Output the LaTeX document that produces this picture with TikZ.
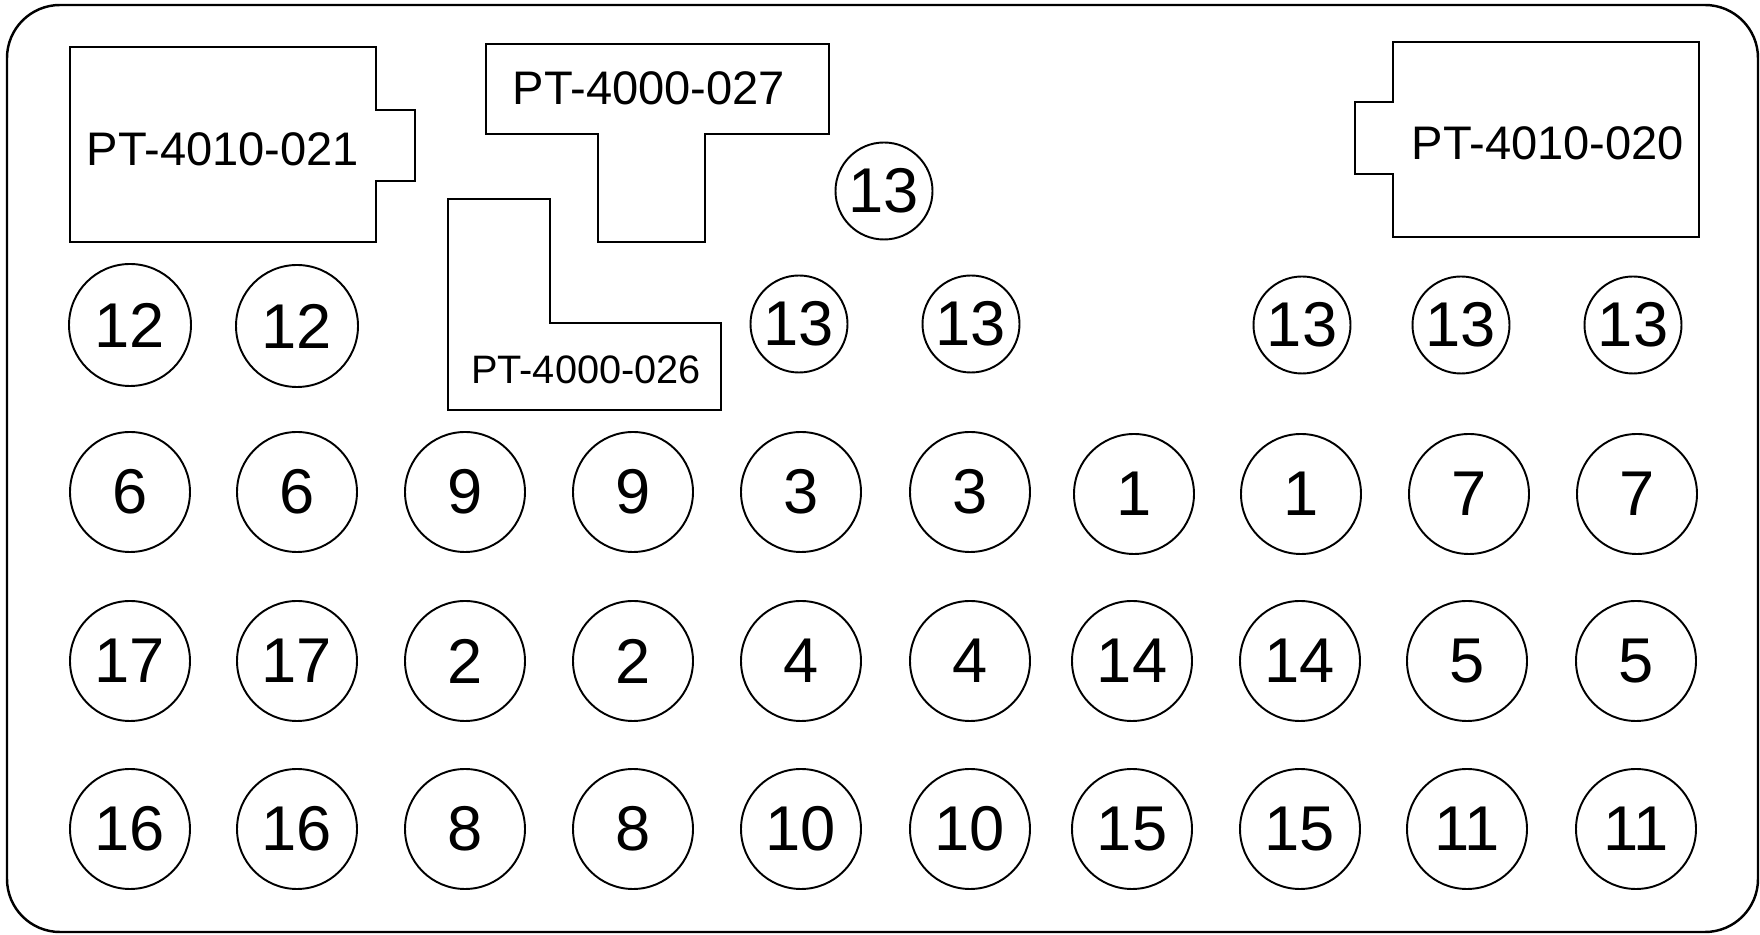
\documentclass[tikz,border=0pt]{standalone}
\usepackage{fontspec}
\setmainfont{Liberation Sans}
\tikzset{
  tray/.style={line width=0.7pt, rounded corners=5.3mm},
  cutout/.style={line width=0.6pt},
  hole/.style={circle, draw, line width=0.55pt, minimum size=1.2cm, inner sep=0pt, font=\fontsize{18}{21}\selectfont},
  bighole/.style={hole, minimum size=1.22cm},
  smallhole/.style={hole, minimum size=0.97cm},
  partname/.style={inner sep=0pt, font=\fontsize{13.4}{16}\selectfont},
  smallname/.style={inner sep=0pt, font=\fontsize{11.3}{13}\selectfont},
}

\begin{document}
\begin{tikzpicture}
		\useasboundingbox (0, 0) rectangle (17.6, 9.35);
		% Tray outline and part cut-outs:
		\draw[tray] (0.07, 0.03) rectangle (17.58, 9.30);
		\draw[cutout] (0.70, 8.88) -- (3.76, 8.88) -- (3.76, 8.25) -- (4.15, 8.25) -- (4.15, 7.54) -- (3.76, 7.54) -- (3.76, 6.93) -- (0.70, 6.93) -- cycle;
		\draw[cutout] (4.86, 8.91) -- (8.29, 8.91) -- (8.29, 8.01) -- (7.05, 8.01) -- (7.05, 6.93) -- (5.98, 6.93) -- (5.98, 8.01) -- (4.86, 8.01) -- cycle;
		\draw[cutout] (4.48, 7.36) -- (5.50, 7.36) -- (5.50, 6.12) -- (7.21, 6.12) -- (7.21, 5.25) -- (4.48, 5.25) -- cycle;
		\draw[cutout] (13.93, 8.93) -- (16.99, 8.93) -- (16.99, 6.98) -- (13.93, 6.98) -- (13.93, 7.61) -- (13.55, 7.61) -- (13.55, 8.33) -- (13.93, 8.33) -- cycle;
		\node[partname] (P021) at (2.23, 7.86) {PT-4010-021};
		\node[partname] (P027) at (6.49, 8.47) {PT-4000-027};
		\node[smallname] (P026) at (5.86, 5.65) {PT-4000-026};
		\node[partname] (P020) at (15.48, 7.92) {PT-4010-020};
		% Holes, top part:
		\node[bighole] (h12a) at (1.30, 6.10) {12};
		\node[bighole] (h12b) at (2.97, 6.09) {12};
		\node[smallhole] (h13a) at (8.84, 7.44) {13};
		\node[smallhole] (h13b) at (7.99, 6.11) {13};
		\node[smallhole] (h13c) at (9.71, 6.11) {13};
		\node[smallhole] (h13d) at (13.02, 6.10) {13};
		\node[smallhole] (h13e) at (14.61, 6.10) {13};
		\node[smallhole] (h13f) at (16.33, 6.10) {13};
		% First row
		\node[hole] (h6a) at (1.30, 4.43) {6};
		\node[hole] (h6b) at (2.97, 4.43) {6};
		\node[hole] (h9a) at (4.65, 4.43) {9};
		\node[hole] (h9b) at (6.33, 4.43) {9};
		\node[hole] (h3a) at (8.01, 4.43) {3};
		\node[hole] (h3b) at (9.70, 4.43) {3};
		\node[hole] (h1a) at (11.34, 4.41) {1};
		\node[hole] (h1b) at (13.01, 4.41) {1};
		\node[hole] (h7a) at (14.69, 4.41) {7};
		\node[hole] (h7b) at (16.37, 4.41) {7};
		% Second row
		\node[hole] (h17a) at (1.30, 2.74) {17};
		\node[hole] (h17b) at (2.97, 2.74) {17};
		\node[hole] (h2a) at (4.65, 2.74) {2};
		\node[hole] (h2b) at (6.33, 2.74) {2};
		\node[hole] (h4a) at (8.01, 2.74) {4};
		\node[hole] (h4b) at (9.70, 2.74) {4};
		\node[hole] (h14a) at (11.32, 2.74) {14};
		\node[hole] (h14b) at (13.00, 2.74) {14};
		\node[hole] (h5a) at (14.67, 2.74) {5};
		\node[hole] (h5b) at (16.36, 2.74) {5};
		% Third row
		\node[hole] (h16a) at (1.30, 1.06) {16};
		\node[hole] (h16b) at (2.97, 1.06) {16};
		\node[hole] (h8a) at (4.65, 1.06) {8};
		\node[hole] (h8b) at (6.33, 1.06) {8};
		\node[hole] (h10a) at (8.01, 1.06) {10};
		\node[hole] (h10b) at (9.70, 1.06) {10};
		\node[hole] (h15a) at (11.32, 1.06) {15};
		\node[hole] (h15b) at (13.00, 1.06) {15};
		\node[hole] (h11a) at (14.67, 1.06) {11};
		\node[hole] (h11b) at (16.36, 1.06) {11};
	\end{tikzpicture}
\end{document}
